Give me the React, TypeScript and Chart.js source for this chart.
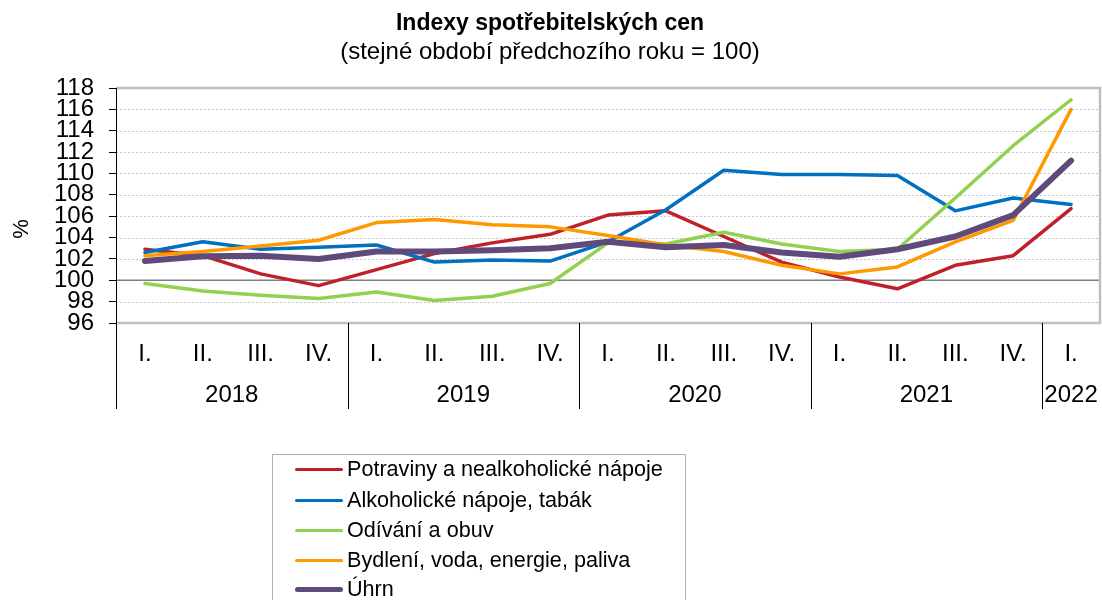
import React, { useEffect, useRef } from "react";
import { Chart, registerables } from "chart.js";

Chart.register(...registerables);

const quarterLabels = ["I.", "II.", "III.", "IV.", "I.", "II.", "III.", "IV.", "I.", "II.", "III.", "IV.", "I.", "II.", "III.", "IV.", "I."];
const years = ["2018", "2019", "2020", "2021", "2022"];
const quartersPerYear = [4, 4, 4, 4, 1];

const potraviny = [102.9, 102.3, 100.6, 99.5, 101.0, 102.5, 103.5, 104.3, 106.1, 106.5, 104.1, 101.7, 100.3, 99.2, 101.4, 102.3, 106.7];
const alkohol = [102.6, 103.6, 102.9, 103.1, 103.3, 101.7, 101.9, 101.8, 103.6, 106.6, 110.3, 109.9, 109.9, 109.8, 106.5, 107.7, 107.1];
const odivani = [99.7, 99.0, 98.6, 98.3, 98.9, 98.1, 98.5, 99.7, 103.5, 103.4, 104.5, 103.4, 102.7, 102.9, 107.7, 112.6, 116.9];
const bydleni = [102.3, 102.7, 103.2, 103.75, 105.4, 105.7, 105.2, 105.0, 104.2, 103.3, 102.7, 101.4, 100.6, 101.25, 103.6, 105.6, 116.0];
const uhrn = [101.8, 102.25, 102.3, 102.0, 102.7, 102.7, 102.8, 103.0, 103.6, 103.1, 103.3, 102.6, 102.2, 102.9, 104.1, 106.1, 111.2];

const seriesNames = [
  "Potraviny a nealkoholické nápoje",
  "Alkoholické nápoje, tabák",
  "Odívání a obuv",
  "Bydlení, voda, energie, paliva",
  "Úhrn",
];
const seriesColors = ["#C0202A", "#0070C0", "#92D050", "#FF9900", "#604A7B"];
const seriesWidths = [3.5, 3.5, 3.5, 3.5, 6];

const FONT = "'Liberation Sans', Arial, sans-serif";

const decorPlugin = {
  id: "decor",
  beforeDatasetsDraw(chart: any) {
    const { ctx, chartArea } = chart;
    const y = chart.scales.y;
    const { left, right, top, bottom } = chartArea;
    ctx.save();
    ctx.lineWidth = 1;
    ctx.strokeStyle = "#c4c4c4";
    ctx.setLineDash([2, 2]);
    y.ticks.forEach((t: any) => {
      if (t.value === 100 || t.value === 96 || t.value === 118) return;
      const py = Math.round(y.getPixelForValue(t.value)) + 0.5;
      ctx.beginPath();
      ctx.moveTo(left, py);
      ctx.lineTo(right, py);
      ctx.stroke();
    });
    ctx.setLineDash([]);
    ctx.strokeStyle = "#7f7f7f";
    ctx.lineWidth = 1.5;
    const p100 = y.getPixelForValue(100);
    ctx.beginPath();
    ctx.moveTo(left, p100);
    ctx.lineTo(right, p100);
    ctx.stroke();
    ctx.strokeStyle = "#bfbfbf";
    ctx.lineWidth = 2.5;
    ctx.beginPath();
    ctx.moveTo(left, top);
    ctx.lineTo(right, top);
    ctx.lineTo(right, bottom);
    ctx.lineTo(left, bottom);
    ctx.stroke();
    ctx.restore();
  },
  afterDraw(chart: any) {
    const { ctx, chartArea } = chart;
    const x = chart.scales.x;
    const { left, top, bottom } = chartArea;
    const sepBottom = 409;
    ctx.save();
    ctx.strokeStyle = "#000";
    ctx.lineWidth = 1;
    ctx.beginPath();
    ctx.moveTo(left + 0.5, top);
    ctx.lineTo(left + 0.5, sepBottom);
    ctx.stroke();
    ctx.fillStyle = "#000";
    ctx.font = `24px ${FONT}`;
    ctx.textAlign = "center";
    ctx.textBaseline = "middle";
    let start = 0;
    years.forEach((yr, i) => {
      const n = quartersPerYear[i];
      const end = start + n - 1;
      const cx = (x.getPixelForValue(start - 0.5) + x.getPixelForValue(end + 0.5)) / 2;
      ctx.fillText(yr, cx, 395);
      if (i < years.length - 1) {
        const sx = Math.round(x.getPixelForValue(end + 0.5)) + 0.5;
        ctx.beginPath();
        ctx.moveTo(sx, bottom);
        ctx.lineTo(sx, sepBottom);
        ctx.stroke();
      }
      start += n;
    });
    ctx.font = `22px ${FONT}`;
    ctx.translate(22, 229);
    ctx.rotate(-Math.PI / 2);
    ctx.fillText("%", 0, 0);
    ctx.restore();
  },
};

export default function App() {
  const canvasRef = useRef<HTMLCanvasElement | null>(null);

  useEffect(() => {
    if (!canvasRef.current) return;
    const data = [potraviny, alkohol, odivani, bydleni, uhrn];
    const chart = new Chart(canvasRef.current, {
      type: "line",
      data: {
        labels: quarterLabels,
        datasets: data.map((d, i) => ({
          label: seriesNames[i],
          data: d,
          borderColor: seriesColors[i],
          backgroundColor: seriesColors[i],
          borderWidth: seriesWidths[i],
          pointRadius: 0,
          pointHoverRadius: 0,
          tension: 0,
          fill: false,
          borderJoinStyle: "round" as const,
          borderCapStyle: "round" as const,
          order: 5 - i,
        })),
      },
      options: {
        responsive: false,
        animation: false,
        events: [],
        layout: { padding: { left: 0, right: 2, top: 0, bottom: 0 } },
        plugins: {
          legend: { display: false },
          tooltip: { enabled: false },
          title: {
            display: true,
            text: "Indexy spotřebitelských cen",
            color: "#000",
            font: { family: FONT, size: 23, weight: "bold", lineHeight: 1 },
            padding: { top: 12, bottom: 5 },
          },
          subtitle: {
            display: true,
            text: "(stejné období předchozího roku = 100)",
            color: "#000",
            font: { family: FONT, size: 24, weight: "normal", lineHeight: 1 },
            padding: { top: 0, bottom: 24 },
          },
        },
        scales: {
          x: {
            type: "category",
            offset: true,
            grid: { display: false, drawTicks: false },
            border: { display: false },
            ticks: {
              color: "#000",
              font: { family: FONT, size: 24 },
              padding: 17,
              maxRotation: 0,
              autoSkip: false,
            },
            afterFit(scale: any) {
              scale.height = 277;
            },
          },
          y: {
            min: 96,
            max: 118,
            grid: {
              drawOnChartArea: false,
              drawTicks: true,
              tickLength: 7,
              tickColor: "#000",
              tickWidth: 1,
            },
            border: { display: true, color: "#000", width: 1 },
            ticks: {
              stepSize: 2,
              autoSkip: false,
              color: "#000",
              font: { family: FONT, size: 24, lineHeight: 1 },
              padding: 15,
            },
            afterFit(scale: any) {
              scale.width = 116;
            },
          },
        },
      },
      plugins: [decorPlugin],
    });
    return () => chart.destroy();
  }, []);

  const legendTops = [469, 500, 530, 560, 589];

  return (
    <div
      style={{
        position: "fixed",
        left: 0,
        top: 0,
        width: 1102,
        height: 600,
        overflow: "hidden",
        background: "#fff",
      }}
    >
      <canvas ref={canvasRef} width={1102} height={600} style={{ display: "block" }} />
      <div
        style={{
          position: "absolute",
          left: 272,
          top: 454,
          width: 414,
          height: 170,
          border: "1px solid #b0b0b0",
          boxSizing: "border-box",
        }}
      />
      {seriesNames.map((name, i) => (
        <div
          key={name}
          style={{
            position: "absolute",
            left: 295,
            top: legendTops[i] - 15,
            height: 30,
            display: "flex",
            alignItems: "center",
            fontFamily: FONT,
            fontSize: 21.6,
            color: "#000",
            whiteSpace: "nowrap",
          }}
        >
          <span
            style={{
              display: "inline-block",
              width: 48,
              height: seriesWidths[i] === 6 ? 5 : 3,
              background: seriesColors[i],
              borderRadius: 3,
              marginRight: 4,
            }}
          />
          <span>{name}</span>
        </div>
      ))}
    </div>
  );
}
